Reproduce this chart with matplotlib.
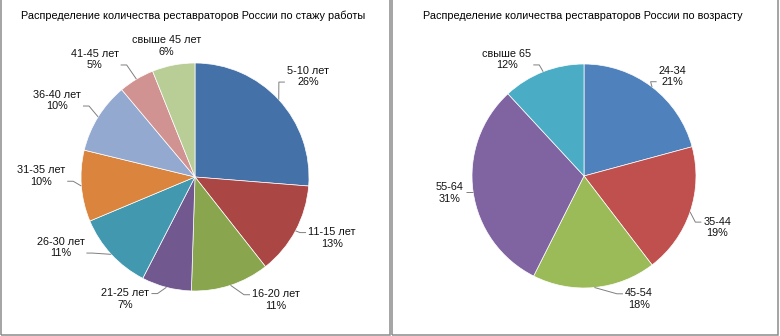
"""
Two pie charts: restorers in Russia by work experience and by age.
"""
import numpy as np
import matplotlib.pyplot as plt
from matplotlib.patches import Rectangle

plt.rcParams['font.family'] = ['Liberation Sans', 'DejaVu Sans']

# work experience
exp_labels = ['5-10 лет', '11-15 лет', '16-20 лет', '21-25 лет', '26-30 лет',
              '31-35 лет', '36-40 лет', '41-45 лет', 'свыше 45 лет']
exp_share = [26, 13, 11, 7, 11, 10, 10, 5, 6]
exp_colors = ['#4471a7', '#aa4644', '#89a54e', '#71588f', '#4198af',
              '#db843d', '#93a9cf', '#d19392', '#b9cd96']

# age
age_labels = ['24-34', '35-44', '45-54', '55-64', 'свыше 65']
age_share = [21, 19, 18, 31, 12]
age_colors = ['#4f81bd', '#c0504d', '#9bbb59', '#8064a2', '#4bacc6']

# label placement (in pie radii) and whether a leader line is drawn
exp_label_xy = [(0.99, 0.88), (1.20, -0.535), (0.71, -1.08), (-0.61, -1.07),
                (-1.18, -0.62), (-1.35, 0.01), (-1.21, 0.67), (-0.88, 1.03),
                (-0.25, 1.15)]
exp_leader = [True, True, True, True, True, True, True, True, False]
age_label_xy = [(0.79, 0.89), (1.19, -0.46), (0.49, -1.10), (-1.20, -0.15),
                (-0.69, 1.04)]
age_leader = [True, True, True, True, True]

W, H = 780, 336
fig = plt.figure(figsize=(W / 100, H / 100), dpi=100)
renderer = fig.canvas.get_renderer()


def draw_pie(ax, shares, labels, colors, label_xy, leader, title,
             cx, cy, r, width):
    ax.pie(shares, colors=colors, startangle=90, counterclock=False,
           wedgeprops=dict(edgecolor='white', linewidth=0.5))
    # 1 data unit == r pixels, pie centred at (cx, cy) from panel top-left
    ax.set_xlim(-cx / r, (width - cx) / r)
    ax.set_ylim(-(H - cy) / r, cy / r)
    ax.set_aspect('auto')
    ax.axis('off')

    total = float(sum(shares))
    start = 0.0
    inv = ax.transData.inverted()
    for s, lab, (tx, ty), ld in zip(shares, labels, label_xy, leader):
        mid = np.deg2rad(90 - (start + s / 2) / total * 360)
        start += s
        t = ax.text(tx, ty, f'{lab}\n{s}%', ha='center', va='center',
                    fontsize=7.8, color='#111111', linespacing=1.2)
        if not ld:
            continue
        ex, ey = np.cos(mid), np.sin(mid)
        bb = t.get_window_extent(renderer)
        (x0, y0), (x1, y1) = inv.transform([(bb.x0, bb.y0), (bb.x1, bb.y1)])
        q = (y1 - y0) / 4
        ay = min(max(ey, y0 + q), y1 - q)
        gap, stub = 2.0 / r, 6.0 / r
        if ex < x0:
            ax_ = x0 - gap
            elbow = ax_ - stub
        else:
            ax_ = x1 + gap
            elbow = ax_ + stub
        ax.plot([ex, elbow, ax_], [ey, ay, ay], color='#7f7f7f', lw=0.7,
                solid_capstyle='butt')

    ax.text((cx - 1.5) / width, 1 - 16 / H, title,
            transform=ax.transAxes, ha='center', va='center',
            fontsize=7.8, color='#000000')


ax1 = fig.add_axes([0, 0, 390 / W, 1])
draw_pie(ax1, exp_share, exp_labels, exp_colors, exp_label_xy, exp_leader,
         'Распределение количества реставраторов России по стажу работы',
         195, 177, 114, 390)

ax2 = fig.add_axes([391 / W, 0, 389 / W, 1])
draw_pie(ax2, age_share, age_labels, age_colors, age_label_xy, age_leader,
         'Распределение количества реставраторов России по возрасту',
         193, 176, 112, 389)

# panel frames
for x0, x1 in [(0.5, 389.5), (391.5, 777.5)]:
    fig.add_artist(Rectangle((x0 / W, 1.5 / H), (x1 - x0) / W, (H + 2) / H,
                             transform=fig.transFigure, fill=False,
                             edgecolor='#8c8c8c', linewidth=1.1,
                             clip_on=False))

fig.savefig('out.png', dpi=100)
